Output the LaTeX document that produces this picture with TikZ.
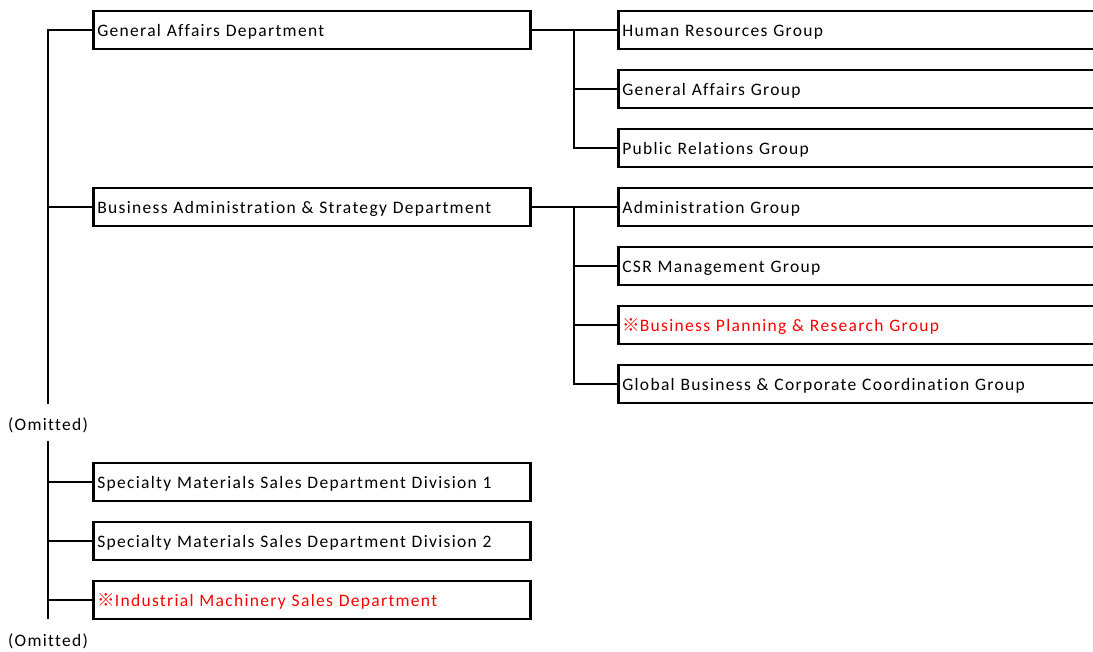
\documentclass[tikz,border=0pt]{standalone}
\usepackage{fontspec}
\setmainfont[LetterSpace=7.5,Ligatures=NoCommon]{Carlito}
\newfontfamily\cjk{Noto Sans CJK JP}
\begin{document}
\begin{tikzpicture}[x=1pt,y=-1pt,
  every node/.style={font=\fontsize{17.5}{20}\selectfont, text height=14pt, text depth=2pt},
  lbox/.style={draw, line width=2.6pt, anchor=west, minimum height=38pt, text width=429pt, inner xsep=4pt, inner ysep=0pt, align=left},
  rbox/.style={draw, line width=2.6pt, anchor=west, minimum height=38pt, text width=500pt, inner xsep=4pt, inner ysep=0pt, align=left},
  conn/.style={line width=2.6pt},
  redtxt/.style={text=red}]
\useasboundingbox (0,0) rectangle (1093,651);
\clip (0,0) rectangle (1093,651);
% left column
\node[lbox] (ga) at (92,30) {General Affairs Department};
\node[lbox] (bas) at (92,207) {Business Administration \& Strategy Department};
\node[lbox] (sm1) at (92,482) {Specialty Materials Sales Department Division 1};
\node[lbox] (sm2) at (92,541) {Specialty Materials Sales Department Division 2};
\node[lbox, redtxt] (im) at (92,600) {{\cjk ※}Industrial Machinery Sales Department};
% right column
\node[rbox] (hr) at (617,30) {Human Resources Group};
\node[rbox] (gag) at (617,89) {General Affairs Group};
\node[rbox] (pr) at (617,148) {Public Relations Group};
\node[rbox] (adm) at (617,207) {Administration Group};
\node[rbox] (csr) at (617,266) {CSR Management Group};
\node[rbox, redtxt] (bpr) at (617,325) {{\cjk ※}Business Planning \& Research Group};
\node[rbox] (gbc) at (617,384) {Global Business \& Corporate Coordination Group};
% omitted labels
\node (om1) at (48,424) {(Omitted)};
\node (om2) at (48,640) {(Omitted)};
% trunk coordinates
\coordinate (t1) at (48,404);
\coordinate (t2a) at (48,441);
\coordinate (t2b) at (48,619);
\coordinate (b1) at (574,30);
% upper trunk
\draw[conn] (t1) |- (ga.west);
\draw[conn] (bas.west -| t1) -- (bas.west);
% lower trunk
\draw[conn] (t2a) -- (t2b);
\draw[conn] (sm1.west -| t2a) -- (sm1.west);
\draw[conn] (sm2.west -| t2a) -- (sm2.west);
\draw[conn] (im.west -| t2a) -- (im.west);
% right branches: general affairs
\draw[conn] (ga.east) -- (hr.west);
\draw[conn] (hr.west -| b1) |- (pr.west);
\draw[conn] (gag.west -| b1) -- (gag.west);
% right branches: business administration
\draw[conn] (bas.east) -- (adm.west);
\draw[conn] (adm.west -| b1) |- (gbc.west);
\draw[conn] (csr.west -| b1) -- (csr.west);
\draw[conn] (bpr.west -| b1) -- (bpr.west);
\end{tikzpicture}
\end{document}
